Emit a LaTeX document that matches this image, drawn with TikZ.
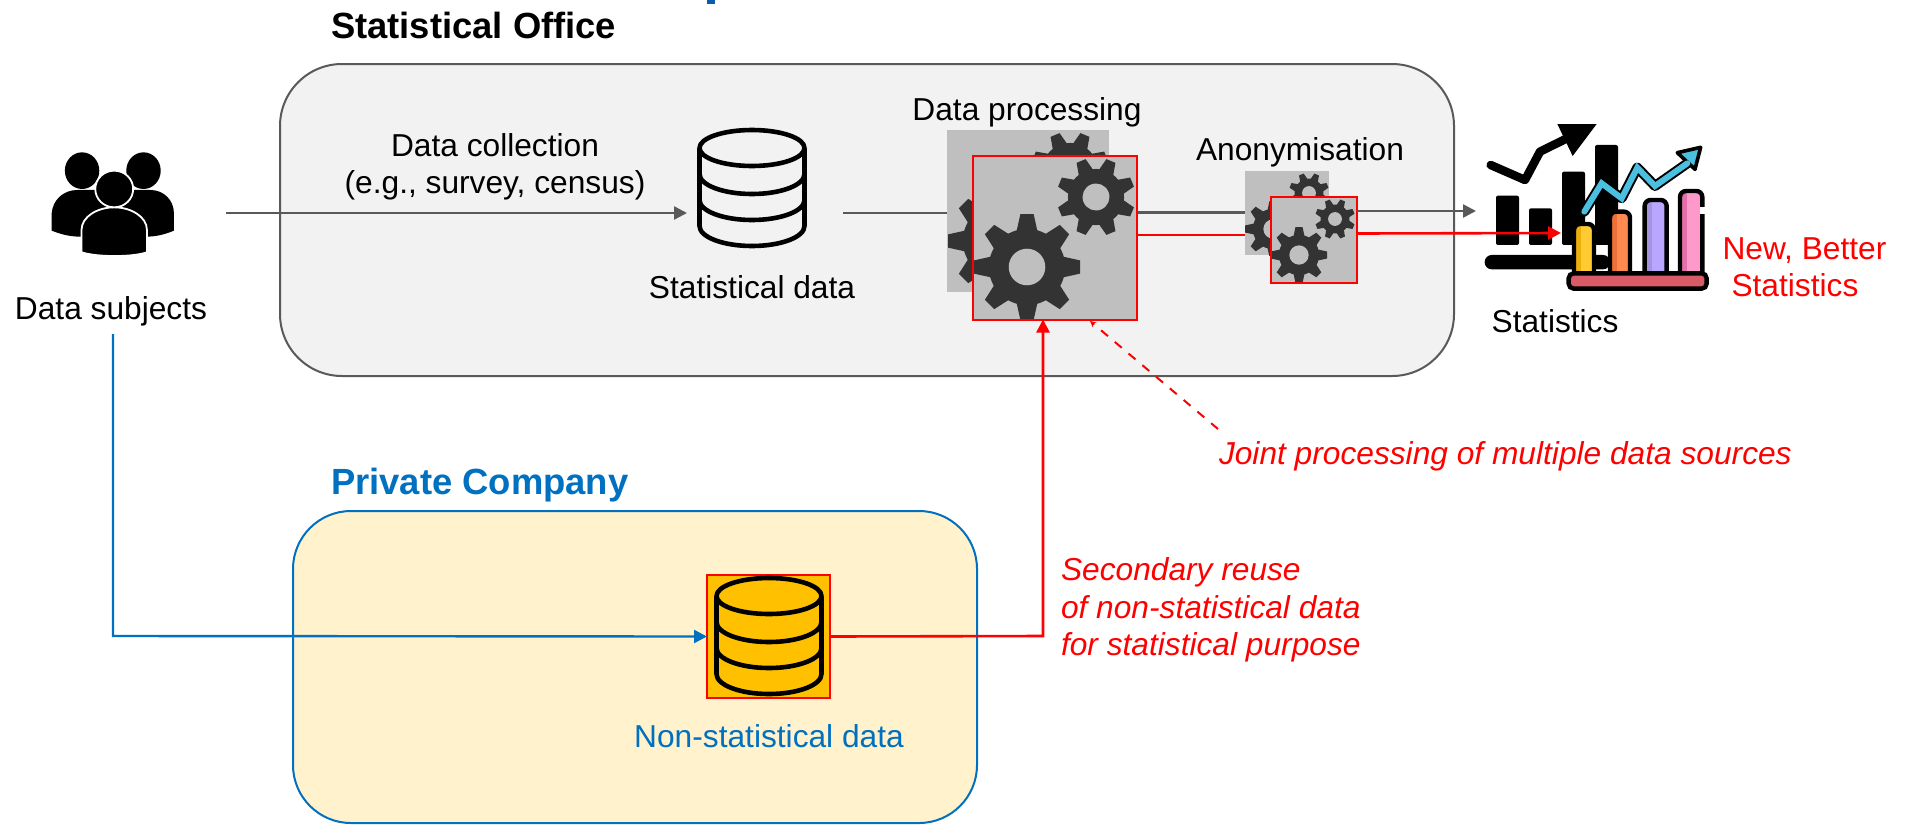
\documentclass[tikz,border=0pt]{standalone}
\usepackage{fontspec}
\setmainfont{Liberation Sans}
\usetikzlibrary{arrows.meta,calc}
\definecolor{officefill}{HTML}{F2F2F2}
\definecolor{officeedge}{HTML}{595959}
\definecolor{companyfill}{HTML}{FFF2CC}
\definecolor{companyblue}{HTML}{0070C0}
\definecolor{squaregray}{HTML}{BFBFBF}
\definecolor{gearcol}{HTML}{333333}
\definecolor{dbyellow}{HTML}{FFC000}
\definecolor{cutblue}{HTML}{0B5CAD}
\definecolor{basered}{HTML}{D95B66}
\definecolor{arrowblue}{HTML}{4BBFDF}
\newcommand{\txt}{\fontsize{31.7}{37.5}\selectfont}
\newcommand{\ttl}{\fontsize{36.4}{42}\selectfont\bfseries}
\tikzset{
  label text/.style={inner sep=0pt,outer sep=0pt,align=center,font=\txt,text=black},
  title text/.style={inner sep=0pt,outer sep=0pt,anchor=west,font=\ttl},
  red text/.style={inner sep=0pt,outer sep=0pt,align=left,font=\txt,text=red},
  region/.style={draw,line width=2pt,rounded corners=#1},
  graybase/.style={inner sep=0pt,outer sep=0pt,fill=squaregray,minimum size=#1},
  iconbox/.style={inner sep=0pt,outer sep=0pt,minimum width=110pt,minimum height=120pt},
  grayline/.style={draw=officeedge,line width=2.4pt},
  grayarrow/.style={grayline,-{Triangle[length=13pt,width=13pt]}},
  redline/.style={draw=red,line width=2.6pt},
  redarrow/.style={redline,-{Triangle[length=13pt,width=13pt]}},
  bluearrow/.style={draw=companyblue,line width=2.4pt,-{Triangle[length=13pt,width=13pt]}},
}
% one gear: centre x, centre y, outer radius, rotation
\newcommand{\onegear}[4]{%
  \begin{scope}[shift={(#1,#2)},rotate=#4,x=#3pt,y=#3pt]
    \fill[gearcol] (0,0) circle (.72);
    \foreach \a in {0,45,...,315}
      \fill[gearcol,rotate=\a] (-.20,.66) -- (-.125,1) -- (.125,1) -- (.20,.66) -- cycle;
    \fill[squaregray] (0,0) circle (.345);
  \end{scope}}
% gears of a square node: node, big x, big y, big r, small x, small y, small r
\newcommand{\gearsin}[7]{%
  \begin{scope}
    \clip (#1.south west) rectangle (#1.north east);
    \onegear{#2}{#3}{#4}{0}
    \onegear{#5}{#6}{#7}{22.5}
  \end{scope}}
% database drum: centre x, top y
\newcommand{\drum}[2]{%
  \begin{scope}[shift={(#1,#2)}]
    \draw[black,line width=4.6pt,line join=round]
      (0,20) ellipse (52.5pt and 18pt)
      (-52.5,20) -- (-52.5,98) arc (180:360:52.5pt and 20pt) -- (52.5,20)
      (-52.5,46) arc (180:360:52.5pt and 20pt)
      (-52.5,72) arc (180:360:52.5pt and 20pt);
  \end{scope}}
\begin{document}
\begin{tikzpicture}[x=1pt,y=-1pt]
\useasboundingbox (0,0) rectangle (1910,825);
\fill[white] (0,0) rectangle (1910,825);

% cut-off piece at the top edge
\fill[cutblue] (707,0) rectangle (715,4);

% regions
\node[title text] (officetitle) at (331,25) {Statistical Office};
\node[title text,text=companyblue] (companytitle) at (331,485) {Private Company};
\path[region=62pt,draw=officeedge,fill=officefill] (280,64) rectangle (1454,376);
\path[region=58pt,draw=companyblue,fill=companyfill] (293,511) rectangle (977,823);

% icon anchors
\node[iconbox] (statdb) at (752,188) {};
\node[inner sep=0pt,outer sep=0pt,minimum width=10pt,minimum height=10pt] (chartold) at (1476,211) {};
\node[inner sep=0pt,outer sep=0pt,minimum width=10pt,minimum height=10pt] (chartnew) at (1561,233) {};
\coordinate (collstart) at (226,213);
\coordinate (subjblue) at (113,334);
\coordinate (bluecorner) at (113,636);
\coordinate (dashfree) at (1218,429);
\coordinate (dashend) at (1090,321);
\coordinate (redcorner) at (1043,636);

% squares
\node[graybase=162pt] (dpback) at (1028,211) {};
\node[graybase=164pt] (dpfront) at (1055,237.5) {};
\node[graybase=84pt] (anback) at (1287,213) {};
\node[graybase=86pt] (anfront) at (1314,240) {};
\node[inner sep=0pt,outer sep=0pt,fill=dbyellow,draw=red,line width=2pt,minimum size=123pt] (nsdb) at (768.5,636.5) {};

% gray process line
\draw[grayline] (statdb.east) ++(36,25) coordinate (graystart) -- (dpback.west |- graystart);
\draw[grayline] (dpfront.east |- 0,212.5) coordinate (gs2) -- (anback.west |- gs2);
\draw[grayarrow,shorten >=10pt] (collstart) -- (statdb.west |- collstart);

% people
\begin{scope}[x=.574pt,y=-.3333pt]
  \fill[black] (90,692) -- (90,640) .. controls (92,600) and (110,570) .. (135,570) -- (262,570)
    .. controls (285,570) and (303,600) .. (303,640) -- (303,692)
    .. controls (285,705) and (270,710) .. (255,710) -- (140,710) .. controls (120,710) and (105,702) .. (90,692) -- cycle;
  \fill[black] (143,512) ellipse (30 and 55);
  \fill[black] (250,512) ellipse (30 and 55);
  \path[fill=black,draw=white,line width=1.8pt] (142,757) -- (142,690)
    .. controls (142,650) and (170,622) .. (199,622)
    .. controls (228,622) and (256,650) .. (256,690) -- (256,757)
    .. controls (230,772) and (170,772) .. (142,757) -- cycle;
  \path[fill=black,draw=white,line width=1.8pt] (199,567) ellipse (33 and 55);
\end{scope}

% drums
\drum{752}{128}
\drum{769}{576}

% gears
\gearsin{dpback}{1001}{241}{53}{1070}{171}{39}
\node[graybase=164pt] (dpfront2) at (dpfront) {};
\gearsin{dpfront}{1027}{267}{53}{1096}{197}{39}
\draw[red,line width=2pt] (dpfront.south west) rectangle (dpfront.north east);
\draw[redline] ($(dpfront.east)+(0,-2.5)$) coordinate (rs1) -- (anback.west |- rs1);
\gearsin{anback}{1273}{229}{28}{1309}{193}{20}
\node[graybase=86pt] (anfront2) at (anfront) {};
\gearsin{anfront}{1299}{255}{28}{1335}{219}{20}
\draw[red,line width=2pt] (anfront.south west) rectangle (anfront.north east);

% old chart
\begin{scope}[shift={(1450,100)},x=.3333pt,y=-.3333pt]
  \draw[black,line width=8.5pt,line cap=round,line join=round] (122,195) -- (225,240) -- (270,155) -- (365,108);
  \fill[black] (322,72) -- (440,72) -- (368,168) -- cycle;
  \foreach \xa/\xb/\yt in {138/207/287,237/306/325,336/405/215,435/504/135}
    \fill[black,rounded corners=2pt] (\xa,\yt) rectangle (\xb,435);
  \fill[black,rounded corners=7pt] (104,465) rectangle (480,508);
\end{scope}

% arrows into the chart
\draw[grayarrow] (anfront.east |- 0,211) coordinate (gs3) -- (chartold.center);
\draw[redarrow] ($(anfront.east)+(0,-6.5)$) coordinate (rs2) -- (chartnew.center);

% new chart
\begin{scope}[shift={(1450,100)},x=.3333pt,y=-.3333pt]
  \foreach \xa/\xb/\yt/\cl/\cd in {372/432/372/FFCB33/EBAE0C,480/540/335/FF8A50/EE7039,584/650/300/B9A7FF/A394E0,690/757/273/FF99CC/E66FAA}{
    \definecolor{barl}{HTML}{\cl}\definecolor{bard}{HTML}{\cd}
    \path[fill=barl] (\xa,516) -- (\xa,\yt) -- (\xb,\yt) -- (\xb,516) -- cycle;
    \fill[bard] (\xa,\yt) rectangle (\xa+22,516);
    \draw[black,line width=4.4pt,rounded corners=6pt] (\xa,516) -- (\xa,\yt) -- (\xb,\yt) -- (\xb,516);
  }
  \fill[white] (750,322) rectangle (775,342);
  \path[fill=basered,draw=black,line width=4.4pt,rounded corners=5pt] (356,520) rectangle (770,566);
  \draw[black,line width=10pt,line join=round,line cap=round] (403,335) -- (455,250) -- (515,295) -- (562,203) -- (615,258) -- (712,190);
  \path[fill=arrowblue,draw=black,line width=3.6pt,line join=round] (752,142) -- (682,158) -- (735,208) -- cycle;
  \draw[arrowblue,line width=6pt,line join=miter,line cap=round] (403,335) -- (455,250) -- (515,295) -- (562,203) -- (615,258) -- (712,190);
\end{scope}

% dashed call-out
\draw[draw=red,line width=2pt,dash pattern=on 9pt off 9pt,-{Stealth[length=6pt,width=6pt]}] (dashfree) -- (dashend);

% blue and red flows
\draw[bluearrow] (subjblue) -- (bluecorner) -- (nsdb.west);
\draw[redarrow] (nsdb.east) -- (redcorner) -- (dpfront.south -| redcorner);

% texts
\node[label text] (lsubjects) at (111,311.5) {Data subjects};
\node[label text] (lcollect) at (495,167) {Data collection\\(e.g., survey, census)};
\node[label text] (lstat) at (752,287.5) {Statistical data};
\node[label text] (ldp) at (1027,112.5) {Data processing};
\node[label text] (lanon) at (1300,152) {Anonymisation};
\node[label text] (lstats) at (1555,321) {Statistics};
\node[red text,anchor=west] (lbetter) at (1722.5,267) {New, Better\\\hspace*{9pt}Statistics};
\node[red text,anchor=west,font=\txt\itshape] (ljoint) at (1219,456.5) {Joint processing of multiple data sources};
\node[red text,anchor=west,font=\txt\itshape] (lsecond) at (1061,610) {Secondary reuse\\of non-statistical data\\for statistical purpose};
\node[label text,text=companyblue] (lns) at (769,736) {Non-statistical data};
\end{tikzpicture}
\end{document}
